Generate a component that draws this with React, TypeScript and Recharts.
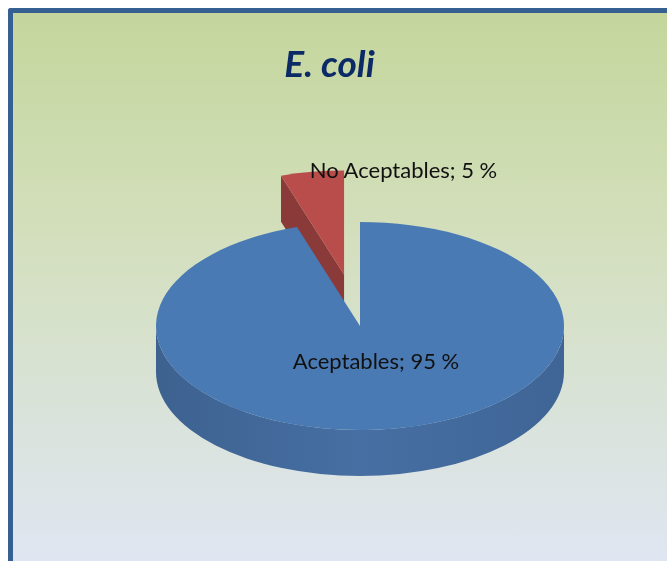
import { PieChart, Pie } from "recharts"

const categories = ["No Aceptables", "Aceptables"]
const values = [5, 95]
const explode = [0.5, 0]
const topColors = ["#b94d4b", "#4a7ab4"]

const chartData = categories.map((name, i) => ({ name, value: values[i] }))

const W = 659
const H = 553
const TILT = 0.51
const DEPTH = 46

const labelSpots = [
  { x: 395.5, y: 161.5 },
  { x: 368, y: 352.5 },
]

const rad = (deg: number) => (deg * Math.PI) / 180

function Slice3D(props: any) {
  const { cx, cy, outerRadius: r, startAngle, endAngle, index } = props
  const ry = r * TILT
  const mid = rad((startAngle + endAngle) / 2)
  const ox = cx + Math.cos(mid) * r * explode[index]
  const oy = cy - Math.sin(mid) * ry * explode[index]
  const pt = (a: number, drop = 0) =>
    `${ox + r * Math.cos(rad(a))} ${oy - ry * Math.sin(rad(a)) + drop}`
  const large = Math.abs(startAngle - endAngle) > 180 ? 1 : 0
  const top = `M${ox} ${oy} L${pt(startAngle)} A${r} ${ry} 0 ${large} 1 ${pt(endAngle)} Z`
  const edge = `M${ox} ${oy} L${pt(startAngle)} L${pt(startAngle, DEPTH)} L${ox} ${oy + DEPTH} Z`
  // only the front half of the rim can be seen
  const rimFrom = Math.min(startAngle, -0)
  const rimTo = Math.max(endAngle, -180)
  const showRim = rimFrom > rimTo
  const rim = `M${pt(rimFrom)} A${r} ${ry} 0 0 1 ${pt(rimTo)} L${pt(rimTo, DEPTH)} A${r} ${ry} 0 0 0 ${pt(rimFrom, DEPTH)} Z`
  return (
    <g>
      {index === 0 && <path d={edge} fill="#8a3b39" />}
      {showRim && <path d={rim} fill="url(#rimBlue)" />}
      <path d={top} fill={topColors[index]} />
    </g>
  )
}

function sliceLabel(props: any) {
  const { index, name, value } = props
  return (
    <text
      x={labelSpots[index].x}
      y={labelSpots[index].y}
      textAnchor="middle"
      dominantBaseline="central"
      fontFamily="Lato, sans-serif"
      fontSize={22}
      fill="#111"
    >
      {`${name}; ${value} %`}
    </text>
  )
}

export default function App() {
  return (
    <div
      style={{
        position: "fixed",
        left: 8,
        top: 8,
        width: W,
        height: H,
        boxSizing: "border-box",
        borderTop: "5px solid #376092",
        borderLeft: "5px solid #376092",
        borderTopLeftRadius: 3,
        background: "linear-gradient(180deg, #c4d69c 0%, #d3dfbc 40%, #dfe6f2 100%)",
        overflow: "hidden",
      }}
    >
      <div
        style={{
          position: "absolute",
          left: 0,
          top: 27,
          width: 633,
          textAlign: "center",
          fontFamily: "Lato, sans-serif",
          fontWeight: 700,
          fontStyle: "italic",
          fontSize: 37,
          color: "#0b2a66",
        }}
      >
        E. coli
      </div>
      <div style={{ position: "absolute", left: -5, top: -5 }}>
        <PieChart width={W} height={H} margin={{ top: 0, right: 0, bottom: 0, left: 0 }}>
          <defs>
            <linearGradient id="rimBlue" x1="0" y1="0" x2="1" y2="0">
              <stop offset="0%" stopColor="#3d6290" />
              <stop offset="50%" stopColor="#476fa3" />
              <stop offset="100%" stopColor="#3f6596" />
            </linearGradient>
          </defs>
          <Pie
            data={chartData}
            dataKey="value"
            nameKey="name"
            cx={352}
            cy={318}
            innerRadius={0}
            outerRadius={204}
            startAngle={108}
            endAngle={-252}
            paddingAngle={0}
            stroke="none"
            shape={Slice3D}
            label={sliceLabel}
            labelLine={false}
            isAnimationActive={false}
          />
        </PieChart>
      </div>
    </div>
  )
}
